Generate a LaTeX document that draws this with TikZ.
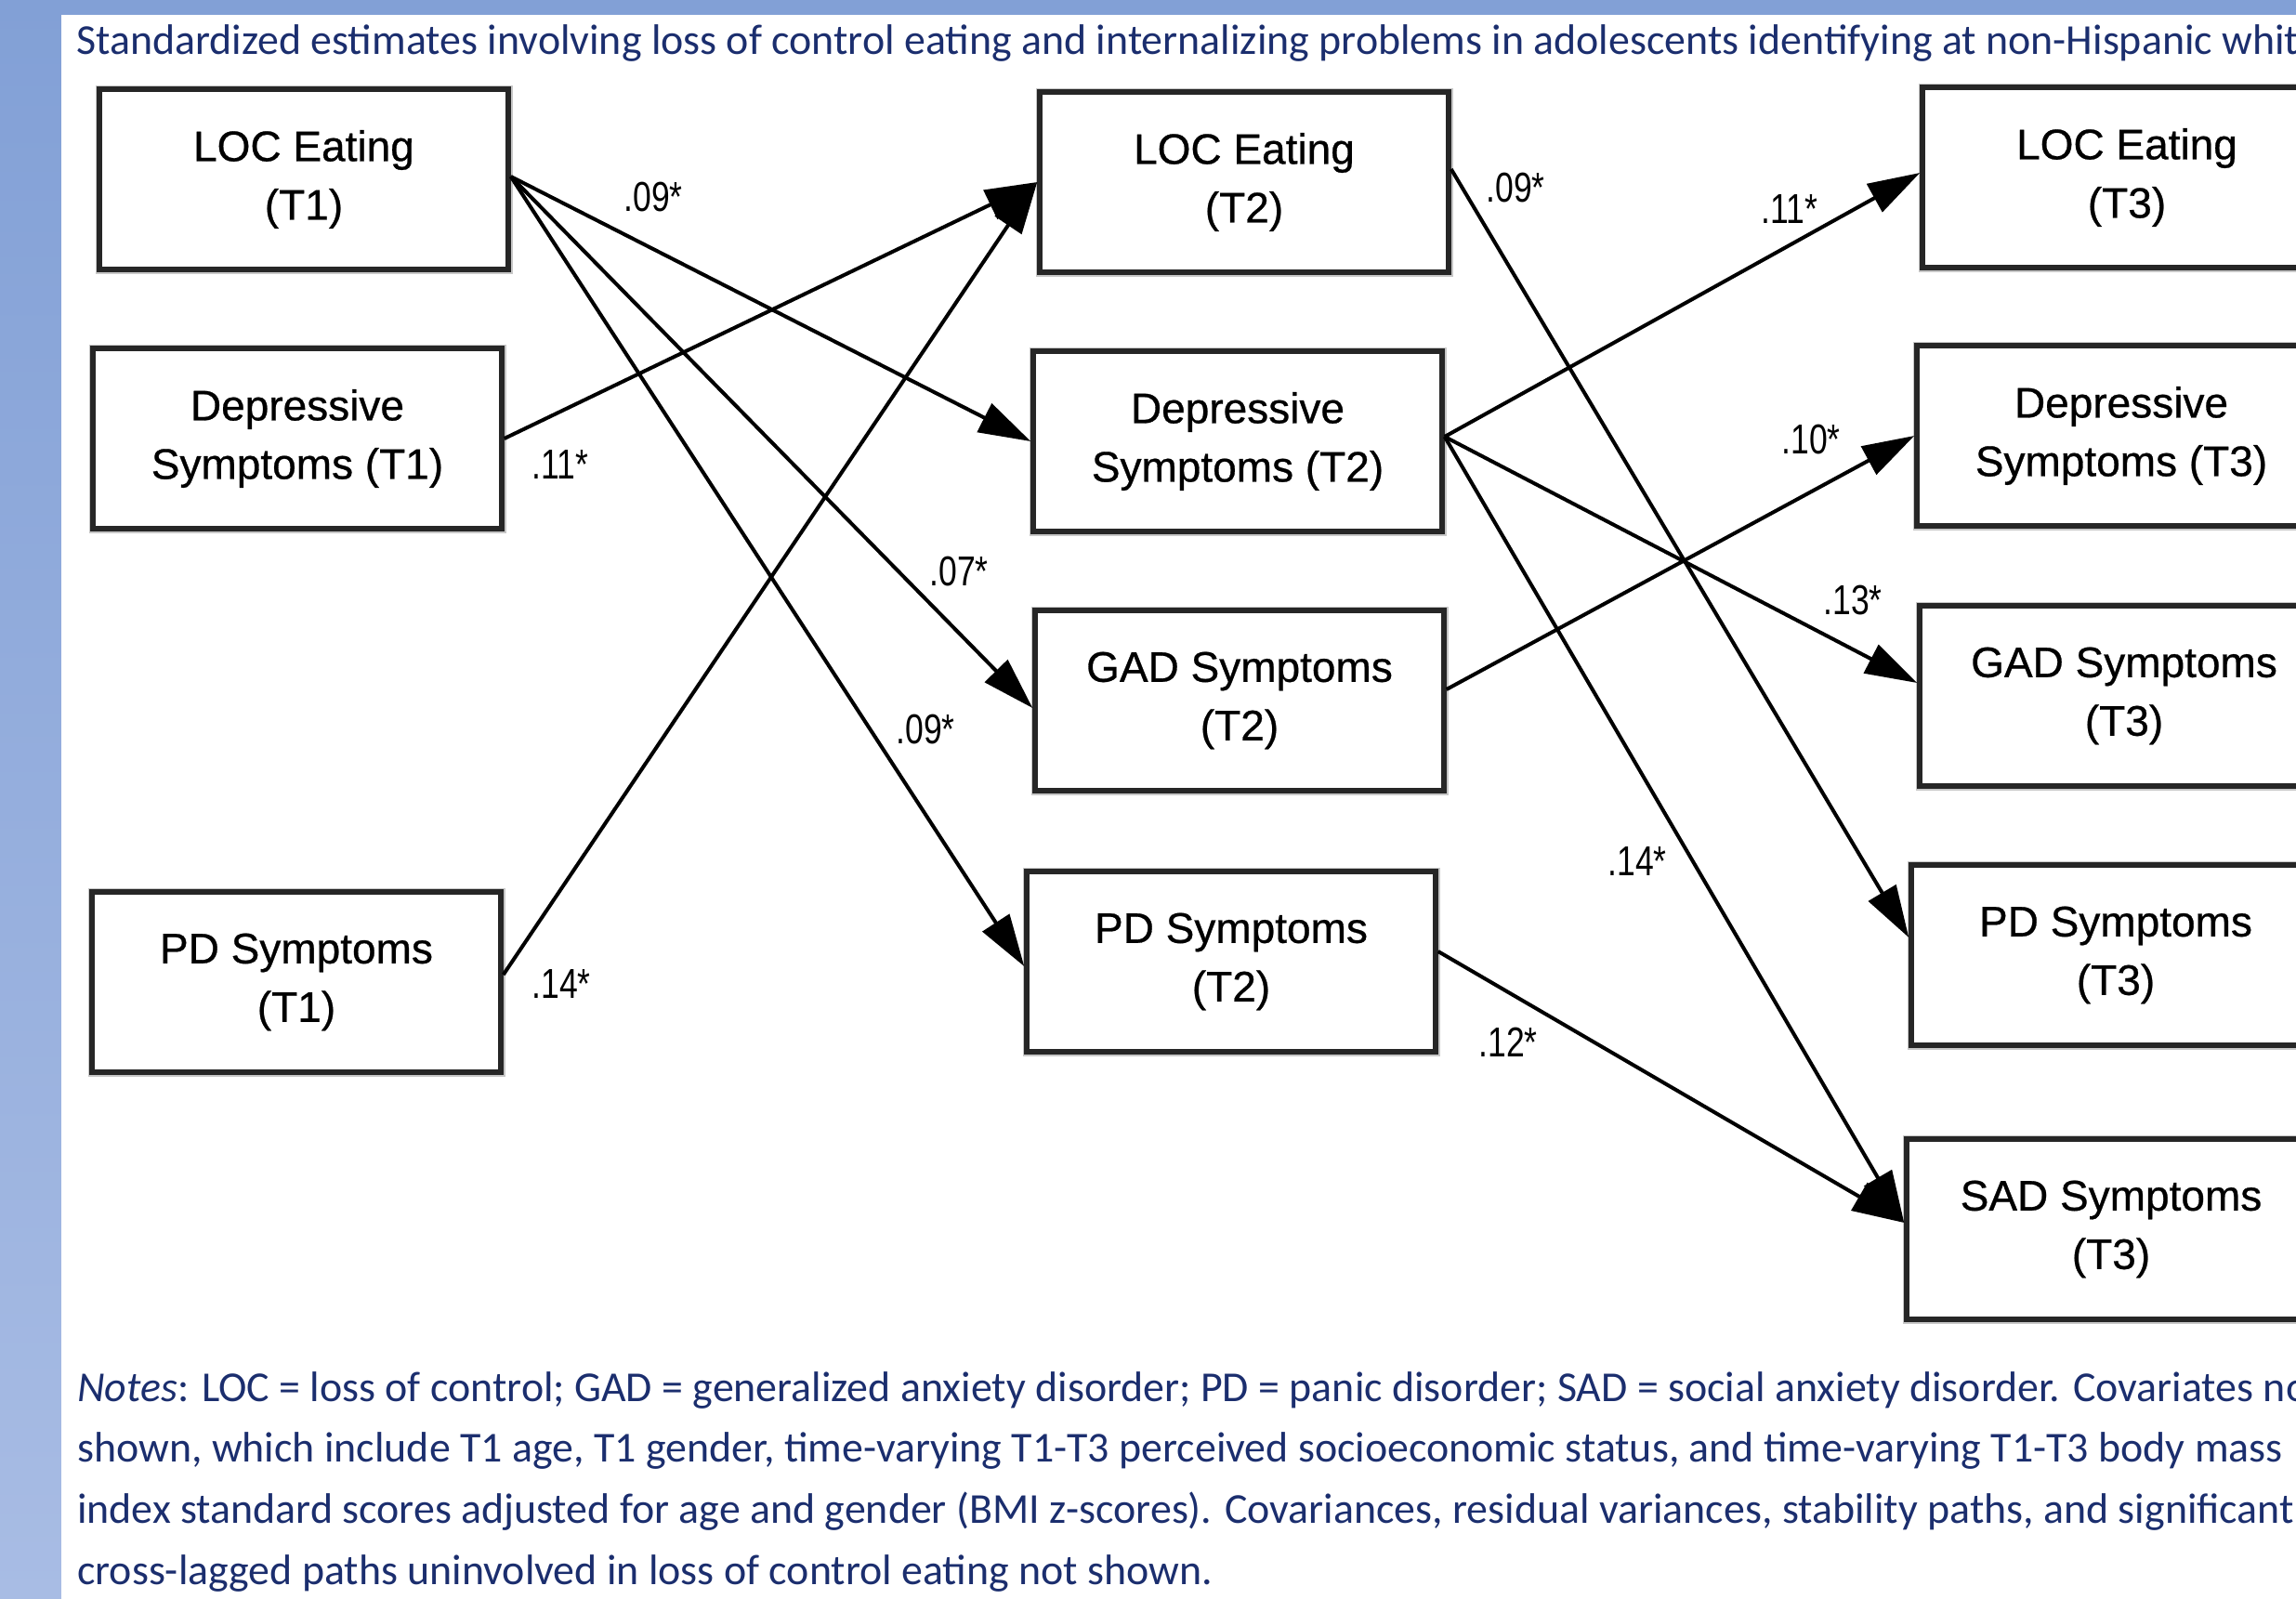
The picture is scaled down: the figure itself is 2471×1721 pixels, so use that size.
\documentclass[tikz,border=0pt]{standalone}
\usepackage{fontspec}
\newfontfamily\calib{Carlito}
\newfontfamily\arialf[FakeBold=0.6]{Liberation Sans}
\newfontfamily\arialn[FakeStretch=0.79]{Liberation Sans}
\usetikzlibrary{arrows.meta}
\definecolor{navy}{HTML}{1B2E6E}
\definecolor{bluetop}{RGB}{130,160,214}
\definecolor{bluebot}{RGB}{168,188,228}
\tikzset{
  varbox/.style={draw=black!85, line width=5.5pt, fill=white,
    preaction={draw=black!22, line width=9pt},
    minimum width=440pt, minimum height=194pt, inner sep=0pt,
    align=center, font=\arialf\fontsize{46}{63}\selectfont},
  conn/.style={draw=black, line width=4pt, -{Triangle[length=56pt,width=34pt]}},
  est/.style={font=\arialn\fontsize{45}{50}\selectfont, inner sep=0pt},
  txt/.style={anchor=base west, inner sep=0pt, text=navy, font=\calib\fontsize{45.9}{66}\selectfont}
}
\begin{document}
\begin{tikzpicture}[x=1pt,y=-1pt]
\useasboundingbox (0,0) rectangle (2471,1721);
\clip (0,0) rectangle (2471,1721);
\shade[top color=bluetop, bottom color=bluebot] (0,0) rectangle (2471,1721);
\fill[white] (66,16) rectangle (2471,1721);

\node[txt] (title) at (82,58) {Standardized estimates involving loss of control eating and internalizing problems in adolescents identifying at non-Hispanic white};

% T1
\node[varbox] (L1) at (327,193) {LOC Eating\\(T1)};
\node[varbox] (D1) at (320,472) {Depressive\\Symptoms (T1)};
\node[varbox] (P1) at (319,1057) {PD Symptoms\\(T1)};
% T2
\node[varbox] (L2) at (1339,196) {LOC Eating\\(T2)};
\node[varbox] (D2) at (1332,475) {Depressive\\Symptoms (T2)};
\node[varbox] (G2) at (1334,754) {GAD Symptoms\\(T2)};
\node[varbox] (P2) at (1325,1035) {PD Symptoms\\(T2)};
% T3
\node[varbox] (L3) at (2289,191) {LOC Eating\\(T3)};
\node[varbox] (D3) at (2283,469) {Depressive\\Symptoms (T3)};
\node[varbox] (G3) at (2286,749) {GAD Symptoms\\(T3)};
\node[varbox] (P3) at (2277,1028) {PD Symptoms\\(T3)};
\node[varbox] (S3) at (2272,1323) {SAD Symptoms\\(T3)};

% T1 -> T2
\draw[conn] ([yshift=3pt]L1.east) -- (D2.west);
\draw[conn] ([yshift=3pt]L1.east) -- ([yshift=-8pt]G2.west);
\draw[conn] ([yshift=3pt]L1.east) -- ([yshift=-5pt]P2.west);
\draw[conn] (D1.east) -- (L2.west);
\draw[conn] ([yshift=8pt]P1.east) -- (L2.west);
% T2 -> T3
\draw[conn] ([yshift=14pt]L2.east) -- ([yshift=19pt]P3.west);
\draw[conn] ([yshift=5pt]D2.east) -- ([yshift=5pt]L3.west);
\draw[conn] ([yshift=5pt]D2.east) -- ([yshift=14pt]G3.west);
\draw[conn] ([yshift=5pt]D2.east) -- ([yshift=7pt]S3.west);
\draw[conn] ([yshift=12pt]G2.east) -- (D3.west);
\draw[conn] ([yshift=11pt]P2.east) -- ([yshift=7pt]S3.west);

% estimates
\node[est] (e1) at (703,212) {.09*};
\node[est] (e2) at (603,500) {.11*};
\node[est] (e3) at (1032,615) {.07*};
\node[est] (e4) at (996,785) {.09*};
\node[est] (e5) at (604,1059) {.14*};
\node[est] (e6) at (1631,202) {.09*};
\node[est] (e7) at (1926,225) {.11*};
\node[est] (e8) at (1949,473) {.10*};
\node[est] (e9) at (1994,646) {.13*};
\node[est] (e10) at (1762,927) {.14*};
\node[est] (e11) at (1623,1122) {.12*};

% notes
\node[txt] (n1) at (83,1508) {\textit{Notes}: LOC = loss of control; GAD = generalized anxiety disorder; PD = panic disorder; SAD = social anxiety disorder. Covariates not};
\node[txt] (n2) at (83,1573) {shown, which include T1 age, T1 gender, time-varying T1-T3 perceived socioeconomic status, and time-varying T1-T3 body mass};
\node[txt] (n3) at (83,1639) {index standard scores adjusted for age and gender (BMI z-scores). Covariances, residual variances, stability paths, and significant};
\node[txt] (n4) at (83,1705) {cross-lagged paths uninvolved in loss of control eating not shown.};
\end{tikzpicture}
\end{document}
